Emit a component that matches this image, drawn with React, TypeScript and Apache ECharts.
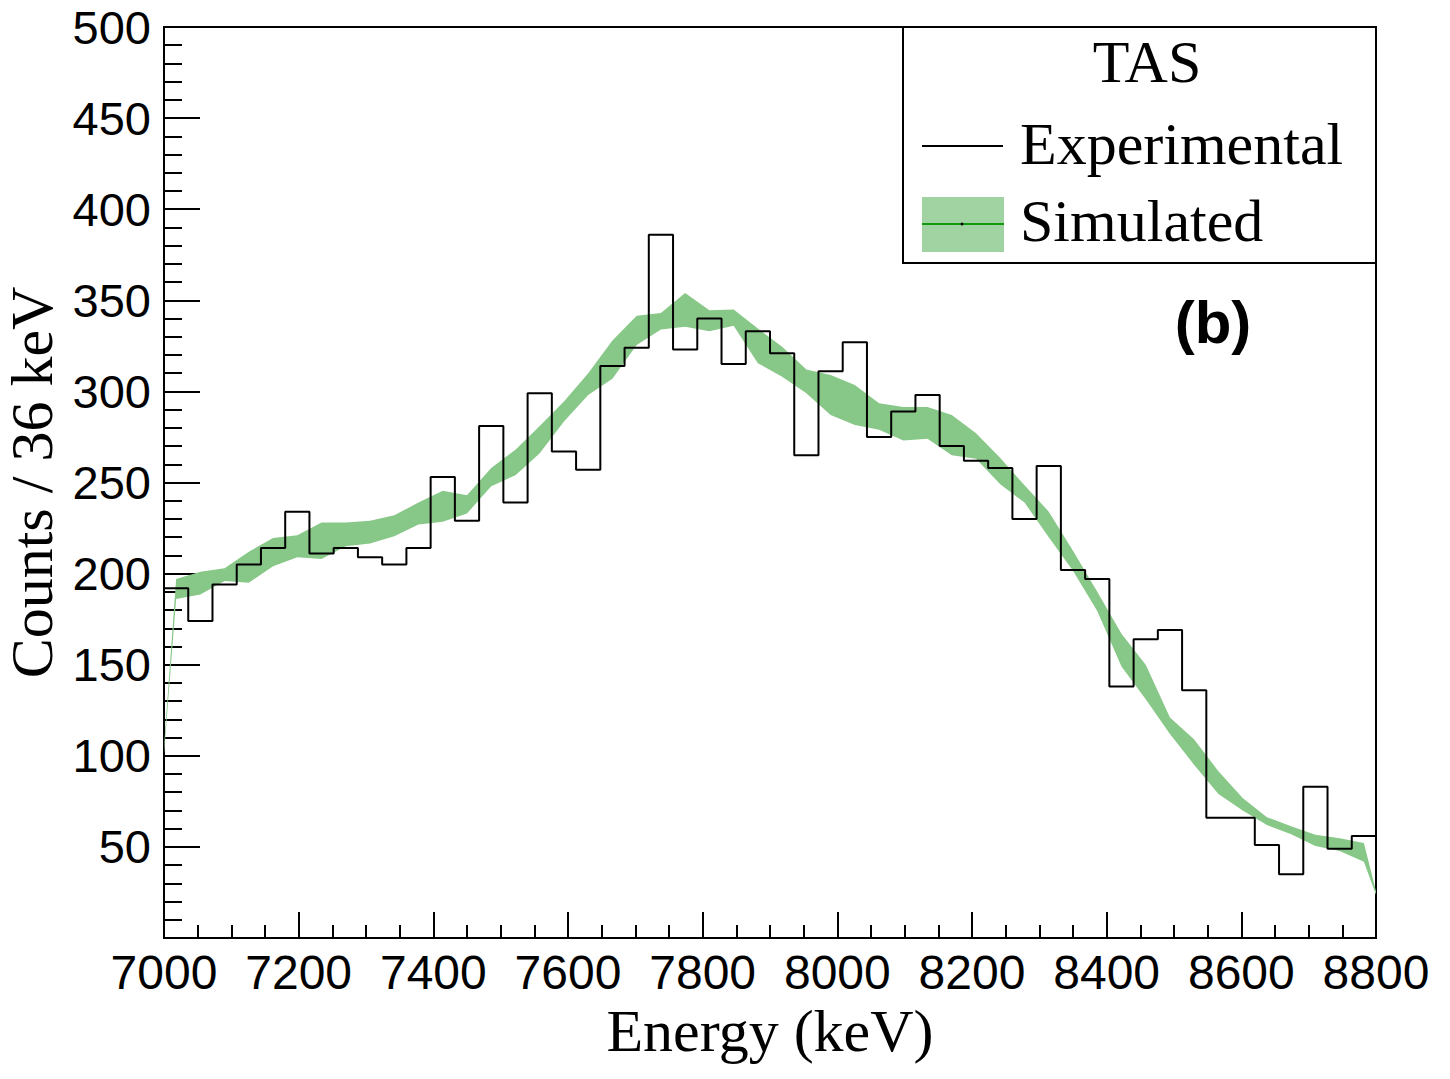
import React, { useEffect, useRef } from 'react';
import * as echarts from 'echarts';

// Histogram bins (36 keV wide): lower edges, keV
const binLowEdges = [
  7000, 7036, 7072, 7108, 7144, 7180, 7216, 7252, 7288, 7324,
  7360, 7396, 7432, 7468, 7504, 7540, 7576, 7612, 7648, 7684,
  7720, 7756, 7792, 7828, 7864, 7900, 7936, 7972, 8008, 8044,
  8080, 8116, 8152, 8188, 8224, 8260, 8296, 8332, 8368, 8404,
  8440, 8476, 8512, 8548, 8584, 8620, 8656, 8692, 8728, 8764,
];
const histUpperEdge = 8800;

// Bin centres, keV
const binCenters = [
  7018, 7054, 7090, 7126, 7162, 7198, 7234, 7270, 7306, 7342,
  7378, 7414, 7450, 7486, 7522, 7558, 7594, 7630, 7666, 7702,
  7738, 7774, 7810, 7846, 7882, 7918, 7954, 7990, 8026, 8062,
  8098, 8134, 8170, 8206, 8242, 8278, 8314, 8350, 8386, 8422,
  8458, 8494, 8530, 8566, 8602, 8638, 8674, 8710, 8746, 8782,
];

// Experimental counts per bin
const experimentalCounts = [
  192, 174, 194, 205, 214, 234, 211, 214, 209, 205,
  214, 253, 229, 281, 239, 299, 267, 257, 314, 324,
  386, 323, 340, 315, 333, 321, 265, 311, 327, 275,
  289, 298, 270, 262, 258, 230, 259, 202, 197, 138,
  164, 169, 136, 66, 66, 51, 35, 83, 49, 56,
];

// Simulated band (upper / lower bound) at bin centres
const simulatedUpper = [
  197, 201, 203, 212, 219.5, 221, 228, 228, 229, 232,
  239, 245.5, 243, 258, 268, 281, 294.5, 310, 328, 341.5,
  343, 354, 344.5, 345, 334.5, 324.5, 312, 309, 303.5, 293.5,
  291.5, 291.5, 287, 277, 263.5, 248.5, 234, 212.5, 190, 167,
  150, 121, 109, 91.5, 76.8, 66.3, 61.3, 56.6, 54.8, 52.1,
];
const simulatedLower = [
  186, 188.5, 196, 195, 204, 209, 208, 215, 216.5, 220.5,
  227, 228.5, 233, 248, 254, 266, 283.5, 298, 307, 325.5,
  334, 335.5, 333, 336, 315.5, 308, 299, 287, 281.5, 279,
  273, 274, 265, 263, 249, 239, 220, 201.5, 179.5, 149,
  131, 112, 95, 79, 70, 62, 57, 50.5, 47.7, 41.8,
];
// Band values at the axis edges (7000 and 8800 keV)
const bandEdgeX = [7000, 8800];
const bandEdgeUpper = [105, 25.6];
const bandEdgeLower = [101, 23.7];

const SERIF = '"Liberation Serif", "Times New Roman", serif';
const SANS = '"Liberation Sans", Arial, sans-serif';

export default function App() {
  const ref = useRef<HTMLDivElement>(null);

  useEffect(() => {
    if (!ref.current) return;
    const chart = echarts.init(ref.current, undefined, { renderer: 'svg' });

    const histData: number[][] = binLowEdges.map((e, i) => [e, experimentalCounts[i]]);
    histData.push([histUpperEdge, experimentalCounts[experimentalCounts.length - 1]]);

    const upperPts: number[][] = [[bandEdgeX[0], bandEdgeUpper[0]]];
    binCenters.forEach((c, i) => upperPts.push([c, simulatedUpper[i]]));
    upperPts.push([bandEdgeX[1], bandEdgeUpper[1]]);
    const lowerPts: number[][] = [[bandEdgeX[0], bandEdgeLower[0]]];
    binCenters.forEach((c, i) => lowerPts.push([c, simulatedLower[i]]));
    lowerPts.push([bandEdgeX[1], bandEdgeLower[1]]);
    const bandPolygon = upperPts.concat(lowerPts.slice().reverse());

    const tickStyle = { color: '#000', width: 2 };

    const option: any = {
      animation: false,
      backgroundColor: '#ffffff',
      grid: {
        left: 164,
        right: 74,
        top: 27,
        bottom: 141,
        show: true,
        borderColor: '#000',
        borderWidth: 2,
        backgroundColor: 'transparent',
        containLabel: false,
        outerBoundsMode: 'none',
      },
      xAxis: {
        type: 'value',
        min: 7000,
        max: 8800,
        interval: 200,
        name: 'Energy (keV)',
        nameLocation: 'middle',
        nameGap: 62,
        nameTextStyle: { fontFamily: SERIF, fontSize: 60, color: '#000' },
        axisLine: { show: true, onZero: false, lineStyle: tickStyle },
        axisTick: { show: true, inside: true, length: 26, lineStyle: tickStyle },
        minorTick: { show: true, splitNumber: 4, length: 13, lineStyle: tickStyle },
        axisLabel: {
          fontFamily: SANS,
          fontSize: 48,
          color: '#000',
          margin: 10,
          showMinLabel: true,
          showMaxLabel: true,
          formatter: (v: number) => String(v),
        },
        splitLine: { show: false },
        minorSplitLine: { show: false },
      },
      yAxis: {
        type: 'value',
        min: 0,
        max: 500,
        interval: 50,
        name: 'Counts / 36 keV',
        nameLocation: 'middle',
        nameGap: 100,
        nameTextStyle: { fontFamily: SERIF, fontSize: 60, color: '#000' },
        axisLine: { show: true, onZero: false, lineStyle: tickStyle },
        axisTick: { show: true, inside: true, length: 36, lineStyle: tickStyle },
        minorTick: { show: true, splitNumber: 5, length: 18, lineStyle: tickStyle },
        axisLabel: {
          fontFamily: SANS,
          fontSize: 47,
          color: '#000',
          margin: 13,
          showMinLabel: false,
          formatter: (v: number) => (v === 0 ? '' : String(v)),
        },
        splitLine: { show: false },
        minorSplitLine: { show: false },
      },
      series: [
        {
          type: 'custom',
          name: 'Simulated',
          coordinateSystem: 'cartesian2d',
          clip: true,
          z: 2,
          data: [[binCenters[0], simulatedUpper[0]]],
          renderItem: (_params: any, api: any) => {
            const points = bandPolygon.map((p) => api.coord(p));
            return {
              type: 'polygon',
              shape: { points },
              style: { fill: '#87c787', stroke: 'none' },
            };
          },
        },
        {
          type: 'line',
          name: 'Experimental',
          data: histData,
          step: 'end',
          symbol: 'none',
          z: 3,
          lineStyle: { color: '#000', width: 2 },
        },
      ],
      graphic: [
        {
          type: 'rect',
          z: 100,
          shape: { x: 903, y: 27, width: 473, height: 236 },
          style: { fill: '#fff', stroke: '#000', lineWidth: 2 },
        },
        {
          type: 'text',
          z: 101,
          x: 1147,
          y: 62,
          style: {
            text: 'TAS',
            fontFamily: SERIF,
            fontSize: 60,
            fill: '#000',
            align: 'center',
            verticalAlign: 'middle',
            textAlign: 'center',
            textVerticalAlign: 'middle',
          },
        },
        {
          type: 'line',
          z: 101,
          shape: { x1: 922, y1: 146, x2: 1003, y2: 146 },
          style: { stroke: '#000', lineWidth: 2 },
        },
        {
          type: 'text',
          z: 101,
          x: 1020,
          y: 144,
          style: {
            text: 'Experimental',
            fontFamily: SERIF,
            fontSize: 60,
            fill: '#000',
            align: 'left',
            verticalAlign: 'middle',
            textAlign: 'left',
            textVerticalAlign: 'middle',
          },
        },
        {
          type: 'rect',
          z: 101,
          shape: { x: 922, y: 197, width: 82, height: 55 },
          style: { fill: '#a1d2a1', stroke: 'none' },
        },
        {
          type: 'line',
          z: 102,
          shape: { x1: 922, y1: 224, x2: 1004, y2: 224 },
          style: { stroke: '#109a10', lineWidth: 2 },
        },
        {
          type: 'circle',
          z: 103,
          shape: { cx: 962, cy: 224, r: 1.5 },
          style: { fill: '#000' },
        },
        {
          type: 'text',
          z: 101,
          x: 1020,
          y: 221,
          style: {
            text: 'Simulated',
            fontFamily: SERIF,
            fontSize: 60,
            fill: '#000',
            align: 'left',
            verticalAlign: 'middle',
            textAlign: 'left',
            textVerticalAlign: 'middle',
          },
        },
        {
          type: 'text',
          z: 101,
          x: 1213,
          y: 322,
          style: {
            text: '(b)',
            fontFamily: SANS,
            fontWeight: 'bold',
            fontSize: 60,
            fill: '#000',
            align: 'center',
            verticalAlign: 'middle',
            textAlign: 'center',
            textVerticalAlign: 'middle',
          },
        },
      ],
    };

    chart.setOption(option);
    return () => chart.dispose();
  }, []);

  return (
    <div
      ref={ref}
      style={{ position: 'absolute', left: 0, top: 0, width: '1450px', height: '1079px', background: '#fff' }}
    />
  );
}
